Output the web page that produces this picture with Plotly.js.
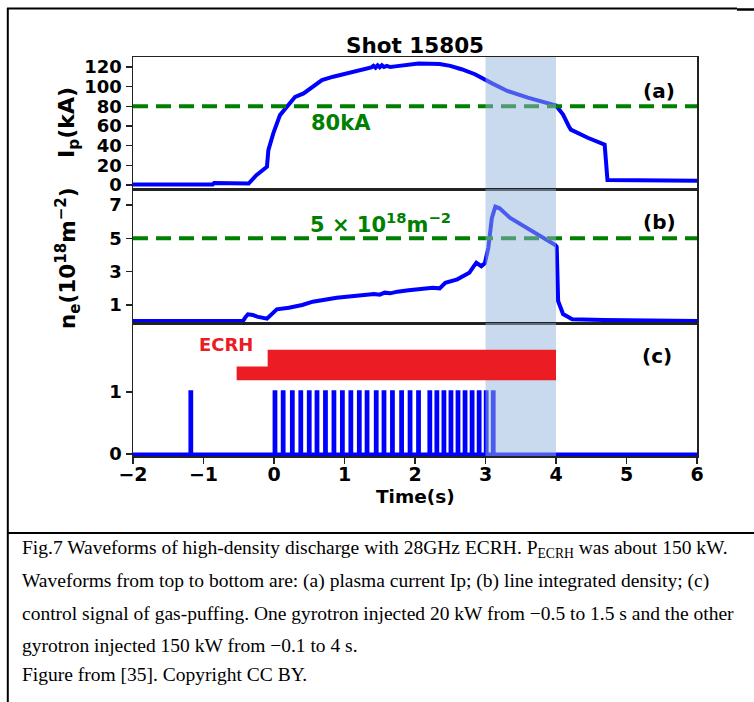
<!DOCTYPE html>
<html><head><meta charset="utf-8">
<script src="https://cdn.plot.ly/plotly-3.0.1.min.js"></script>
<style>html,body{margin:0;padding:0;background:#fff;}#chart{width:754px;height:702px;}</style>
</head><body><div id="chart"></div>
<script>
// ---- Data ----
const ipTime  = [-2, -0.87, -0.85, -0.6, -0.48, -0.36, -0.25, -0.10, -0.08, -0.01, 0.085, 0.18, 0.30, 0.42, 0.51, 0.68, 0.84, 1.08, 1.31, 1.38, 1.41, 1.44, 1.47, 1.50, 1.53, 1.56, 1.60, 1.65, 1.72, 1.85, 2.05, 2.20, 2.35, 2.50, 2.66, 2.85, 3.00, 3.10, 3.31, 3.60, 4.00, 4.10, 4.18, 4.21, 4.45, 4.69, 4.73, 5.00, 5.50, 6.00];
const ipValue = [0.5, 0.5, 2.0, 1.8, 1.2, 1.5, 10, 18.6, 35.5, 52.5, 71, 79.5, 89.6, 93, 98, 106.6, 110, 114, 118.5, 119.5, 121.0, 119.2, 121.5, 119.6, 121.6, 119.8, 121.0, 119.8, 120.5, 121.8, 123.5, 123.2, 122.8, 121.0, 117.6, 112.5, 107.4, 103.0, 95.5, 88.7, 80.8, 71.6, 60.0, 56.3, 48.0, 41.0, 5.1, 5.0, 4.8, 4.4];

const neTime  = [-2, -0.44, -0.40, -0.37, -0.30, -0.24, -0.10, -0.02, 0.04, 0.21, 0.40, 0.55, 0.72, 0.89, 1.10, 1.30, 1.42, 1.50, 1.57, 1.65, 1.75, 1.91, 2.00, 2.10, 2.25, 2.35, 2.43, 2.60, 2.77, 2.83, 2.87, 2.94, 2.99, 3.04, 3.09, 3.14, 3.20, 3.35, 3.50, 3.62, 3.82, 3.99, 4.01, 4.03, 4.10, 4.23, 4.68, 6.00];
const neValue = [0.04, 0.04, 0.30, 0.44, 0.40, 0.30, 0.18, 0.55, 0.74, 0.84, 1.00, 1.20, 1.33, 1.44, 1.52, 1.58, 1.66, 1.62, 1.74, 1.70, 1.80, 1.88, 1.92, 1.97, 2.04, 2.00, 2.33, 2.54, 2.93, 3.30, 3.53, 3.33, 3.50, 4.43, 6.22, 6.90, 6.80, 6.22, 5.85, 5.53, 5.00, 4.60, 4.50, 1.24, 0.46, 0.15, 0.10, 0.04];

const puffTimes = [-1.18, 0.014, 0.13, 0.26, 0.38, 0.50, 0.61, 0.73, 0.85, 0.97, 1.09, 1.21, 1.32, 1.45, 1.56, 1.68, 1.81, 1.93, 2.05, 2.21, 2.31, 2.41, 2.51, 2.61, 2.71, 2.81, 2.91, 3.01, 3.11];
const puffLevel = 1;

const ecrhPolyX = [-0.53, -0.53, -0.09, -0.09, 4.0, 4.0, -0.53];
const ecrhPolyY = [1.19, 1.41, 1.41, 1.68, 1.68, 1.19, 1.19];

const ipThreshold = 80;
const neThreshold = 5;
const spanStart = 3.0, spanEnd = 4.0;
const timeRange = [-2, 6];
const ipRange = [-4, 130];
const neRange = [-0.08, 7.96];
const puffRange = [-0.03, 2.11];
const timeTicks = [-2, -1, 0, 1, 2, 3, 4, 5, 6];
const ipTicks = [0, 20, 40, 60, 80, 100, 120];
const neTicks = [1, 3, 5, 7];
const puffTicks = [0, 1];

// ---- Build the gas-puff waveform from pulse times ----
const halfW = 0.009;
const puffX = [timeRange[0]], puffY = [0];
puffTimes.forEach(p => { puffX.push(p - halfW, p - halfW, p + halfW, p + halfW); puffY.push(0, puffLevel, puffLevel, 0); });
puffX.push(timeRange[1]); puffY.push(0);

// ---- Layout helpers (pixel -> paper) ----
const W = 754, H = 702;
const px = v => v / W;
const py = v => 1 - v / H;
const xDom = [px(133), px(697)];
const dA = [py(189), py(57)], dB = [py(323), py(189)], dC = [py(456), py(323)];

const BOLD = {family: 'DejaVu Sans', weight: 'bold', color: '#000'};
const tickFont = Object.assign({}, BOLD, {size: 18});
const frame = {showline: true, mirror: true, linecolor: '#222', linewidth: 1.5, showgrid: false, zeroline: false};
const SPAN_FILL = 'rgba(150,182,222,0.5)';

function spanTrace(xa, ya, yr) {
  return {x: [spanStart, spanStart, spanEnd, spanEnd, spanStart], y: [yr[0], yr[1], yr[1], yr[0], yr[0]],
    xaxis: xa, yaxis: ya, mode: 'lines', fill: 'toself', fillcolor: SPAN_FILL, line: {width: 0, color: SPAN_FILL}, hoverinfo: 'skip'};
}

const traces = [
  {x: ipTime, y: ipValue, xaxis: 'x', yaxis: 'y', mode: 'lines', line: {color: '#0000ff', width: 4}},
  {x: timeRange, y: [ipThreshold, ipThreshold], xaxis: 'x', yaxis: 'y', mode: 'lines', line: {color: '#008000', width: 4, dash: '15px,8px'}},
  spanTrace('x', 'y', ipRange),
  {x: neTime, y: neValue, xaxis: 'x2', yaxis: 'y2', mode: 'lines', line: {color: '#0000ff', width: 4}},
  {x: timeRange, y: [neThreshold, neThreshold], xaxis: 'x2', yaxis: 'y2', mode: 'lines', line: {color: '#008000', width: 4, dash: '15px,8px'}},
  spanTrace('x2', 'y2', neRange),
  {x: puffX, y: puffY, xaxis: 'x3', yaxis: 'y3', mode: 'lines', line: {color: '#0000ff', width: 3.5}},
  spanTrace('x3', 'y3', puffRange),
  {x: ecrhPolyX, y: ecrhPolyY, xaxis: 'x3', yaxis: 'y3', mode: 'lines', fill: 'toself', fillcolor: '#ec1c24', line: {width: 0, color: '#ec1c24'}}
];

function ann(text, x, y, size, color, extra) {
  return Object.assign({text: text, xref: 'paper', yref: 'paper', x: px(x), y: py(y), showarrow: false,
    xanchor: 'center', yanchor: 'middle', font: Object.assign({}, BOLD, {size: size, color: color || '#000'})}, extra || {});
}
const capFont = {family: 'Liberation Serif', size: 19.5, color: '#000'};
function cap(text, y) {
  return {text: text, xref: 'paper', yref: 'paper', x: px(20), y: py(y), showarrow: false, xanchor: 'left', yanchor: 'middle', font: capFont};
}
const yAxisCommon = {ticks: 'outside', ticklen: 6, tickwidth: 1.5, tickcolor: '#222', tickfont: tickFont};

const layout = {
  width: W, height: H, margin: {l: 0, r: 0, t: 0, b: 0}, paper_bgcolor: '#fff', plot_bgcolor: '#fff', showlegend: false,
  title: {text: 'Shot 15805', x: px(415), y: py(45), xref: 'paper', yref: 'paper', xanchor: 'center', yanchor: 'middle', font: Object.assign({}, BOLD, {size: 21.5})},
  xaxis: Object.assign({domain: xDom, anchor: 'y', range: timeRange, showticklabels: false, ticks: ''}, frame),
  xaxis2: Object.assign({domain: xDom, anchor: 'y2', range: timeRange, showticklabels: false, ticks: ''}, frame),
  xaxis3: Object.assign({domain: xDom, anchor: 'x3' === 'x3' ? 'y3' : 'y3', range: timeRange, tickvals: timeTicks, ticks: 'outside', ticklen: 6, tickwidth: 1.5, tickcolor: '#222', ticklabelstandoff: -5, tickfont: Object.assign({}, BOLD, {size: 19})}, frame),
  yaxis: Object.assign({domain: dA, anchor: 'x', range: ipRange, tickvals: ipTicks}, yAxisCommon, frame),
  yaxis2: Object.assign({domain: dB, anchor: 'x2', range: neRange, tickvals: neTicks}, yAxisCommon, frame),
  yaxis3: Object.assign({domain: dC, anchor: 'x3', range: puffRange, tickvals: puffTicks}, yAxisCommon, frame),
  shapes: [
    {type: 'line', xref: 'paper', yref: 'paper', x0: px(7), x1: px(737), y0: py(8.5), y1: py(8.5), line: {color: '#000', width: 2}},
    {type: 'line', xref: 'paper', yref: 'paper', x0: px(737), x1: px(754), y0: py(9.5), y1: py(9.5), line: {color: '#000', width: 2.5}},
    {type: 'line', xref: 'paper', yref: 'paper', x0: px(7.8), x1: px(7.8), y0: py(8), y1: py(702), line: {color: '#000', width: 2}},
    {type: 'line', xref: 'paper', yref: 'paper', x0: px(7), x1: px(754), y0: py(533), y1: py(533), line: {color: '#000', width: 2}}
  ],
  annotations: [
    ann('I<sub>p</sub>(kA)', 68, 123, 22, '#000', {textangle: -90}),
    ann('n<sub>e</sub>(10<sup>18</sup>m<sup>−2</sup>)', 68, 258, 21.5, '#000', {textangle: -90}),
    ann('Time(s)', 415, 496, 18.5),
    ann('80kA', 341, 123, 21, '#008000'),
    ann('5 × 10<sup>18</sup>m<sup>−2</sup>', 380, 223, 21, '#008000'),
    ann('(a)', 659, 91, 20),
    ann('(b)', 659, 222, 20),
    ann('(c)', 657, 356, 20),
    ann('ECRH', 226, 344, 18, '#ec1c24'),
    cap('Fig.7 Waveforms of high-density discharge with 28GHz ECRH. P<sub>ECRH</sub> was about 150 kW.', 549),
    cap('Waveforms from top to bottom are: (a) plasma current Ip; (b) line integrated density; (c)', 581),
    cap('control signal of gas-puffing. One gyrotron injected 20 kW from −0.5 to 1.5 s and the other', 613),
    cap('gyrotron injected 150 kW from −0.1 to 4 s.', 645),
    cap('Figure from [35]. Copyright CC BY.', 674)
  ]
};

Plotly.newPlot('chart', traces, layout, {staticPlot: true, displayModeBar: false});
</script>
</body></html>
